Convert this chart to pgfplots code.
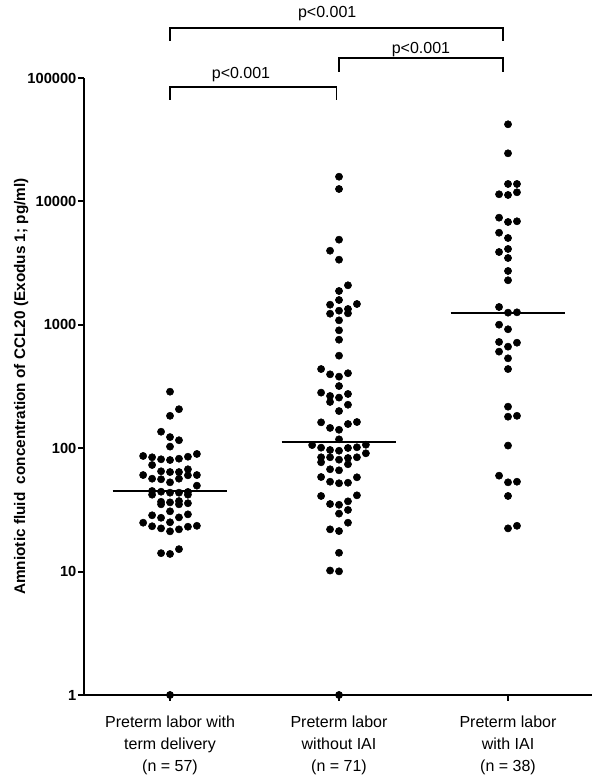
\documentclass[border=0pt]{standalone}
\usepackage{pgfplots}
\usepackage{pgfplotstable}
\pgfplotsset{compat=1.18}
\usepackage{fontspec}
\setmainfont{Liberation Sans}

\pgfplotstableread{
x y
1.000 287
1.053 207
1.000 183
0.947 136
1.000 123
1.053 116
1.000 103
0.841 86.5
0.894 84.4
0.947 81.3
1.000 80.2
1.053 82.2
1.106 85.3
1.159 89.8
0.894 73.1
0.947 65.0
1.000 64.1
1.053 64.1
1.106 67.5
0.841 60.6
0.894 56.6
0.947 56.0
1.000 52.9
1.053 56.6
1.106 60.3
1.159 60.6
1.159 49.7
0.894 45.0
0.894 42.0
0.947 44.4
1.000 43.6
1.053 43.6
1.106 44.2
1.106 42.0
0.947 36.8
0.947 35.1
1.000 36.4
1.053 37.3
1.053 35.1
1.106 35.8
1.000 30.8
0.841 24.9
0.894 28.6
0.947 27.3
1.000 25.1
1.053 27.5
1.106 29.1
0.894 23.3
0.947 22.4
1.000 21.2
1.053 22.0
1.106 23.1
1.159 23.5
0.947 14.1
1.000 13.9
1.053 15.2
1.000 1
}\groupA

\pgfplotstableread{
x y
2.000 15850
2.000 12600
2.000 4895
1.947 3984
2.000 3370
2.053 2090
2.000 1879
2.000 1588
1.947 1455
2.106 1474
2.000 1301
2.053 1343
2.053 1239
1.947 1230
2.000 1087
2.000 902
2.000 757
2.000 562
1.894 438
1.947 397
2.000 380
2.053 405
2.000 319
1.894 282
1.947 265
2.000 257
2.053 275
1.947 237
2.053 225
2.000 200
1.894 162
1.947 146
2.000 141
2.053 157
2.106 163
2.000 118
1.841 106
1.894 101
1.947 96.7
2.000 95.4
2.053 100.4
2.106 101.7
2.159 106.7
2.159 90.9
1.894 84.4
1.947 84.4
1.894 76.9
2.000 80.7
2.053 83.3
2.106 84.4
2.053 74.1
1.947 67.5
2.000 66.2
1.894 58.4
1.947 53.5
2.000 52.0
2.053 52.5
2.106 58.1
1.894 41.0
1.947 35.3
2.000 34.8
2.053 37.1
2.106 41.5
2.000 29.5
2.053 31.6
2.053 24.9
1.947 22.0
2.000 21.3
2.000 14.2
1.947 10.2
2.000 10.05
2.000 1
}\groupB

\pgfplotstableread{
x y
3.000 42150
3.000 24530
3.000 13840
3.053 13840
2.947 11420
3.000 11270
3.053 11850
2.947 7380
3.000 6810
3.053 6900
2.947 5575
3.000 5050
3.000 4115
2.947 3890
3.000 3477
3.000 2730
3.000 2295
2.947 1394
3.000 1254
3.053 1262
2.947 1002
3.000 920
2.947 726
3.000 665
3.053 716
2.947 606
3.000 535
3.000 438
3.000 217
3.000 180
3.053 183
3.000 105
2.947 59.9
3.000 52.9
3.053 53.5
3.000 41.0
3.000 22.4
3.053 23.5
}\groupC

\begin{document}
\begin{tikzpicture}
\begin{axis}[
  scale only axis,
  width=381pt, height=462.75pt,
  xmin=0.491, xmax=3.497,
  ymode=log, ymin=1, ymax=100000,
  axis x line*=bottom, axis y line*=left,
  axis line style={line width=1.7pt, -},
  ytick={1,10,100,1000,10000,100000},
  yticklabels={1,10,100,1000,10000,100000},
  yminorticks=false,
  xtick={1,2,3},
  xticklabels={{Preterm labor with\\term delivery\\(n = 57)},{Preterm labor\\without IAI\\(n = 71)},{Preterm labor\\with IAI\\(n = 38)}},
  tick align=outside,
  major tick length=4.5pt,
  tick style={line width=1.4pt, black},
  yticklabel style={font=\bfseries\fontsize{11}{12}\selectfont, inner sep=1pt},
  xticklabel style={font=\fontsize{12}{16.5}\selectfont, align=center, yshift=-8pt},
  ylabel={Amniotic fluid\ \ concentration of CCL20 (Exodus 1; pg/ml)},
  ylabel style={font=\bfseries\fontsize{11.5}{13}\selectfont, at={(axis description cs:-0.1234,0.5)}, anchor=center},
  clip=false,
]
\addplot[only marks, mark=*, mark size=2.7pt, black] table {\groupA};
\addplot[only marks, mark=*, mark size=2.7pt, black] table {\groupB};
\addplot[only marks, mark=*, mark size=2.7pt, black] table {\groupC};
\addplot[black, line width=1.3pt, no marks] coordinates {(0.66,45) (1.34,45)};
\addplot[black, line width=1.3pt, no marks] coordinates {(1.66,113) (2.34,113)};
\addplot[black, line width=1.3pt, no marks] coordinates {(2.66,1254) (3.34,1254)};
\draw[line width=1.2pt] (axis cs:1,199500) -- (axis cs:1,254000) -- (axis cs:2.97,254000) -- (axis cs:2.97,199500);
\node[font=\fontsize{12}{14}\selectfont] at (axis cs:1.93,330000) {p<0.001};
\draw[line width=1.2pt] (axis cs:2,111900) -- (axis cs:2,145200) -- (axis cs:2.97,145200) -- (axis cs:2.97,111900);
\node[font=\fontsize{12}{14}\selectfont] at (axis cs:2.485,168700) {p<0.001};
\draw[line width=1.2pt] (axis cs:1,66400) -- (axis cs:1,84500) -- (axis cs:1.985,84500) -- (axis cs:1.985,66400);
\node[font=\fontsize{12}{14}\selectfont] at (axis cs:1.42,105700) {p<0.001};
\coordinate (SW) at (rel axis cs:0,0);
\coordinate (NE) at (rel axis cs:1,1);
\end{axis}
\pgfresetboundingbox
\path ([xshift=-63pt,yshift=-66.75pt]SW) rectangle ([xshift=6pt,yshift=58.5pt]NE);
\end{tikzpicture}
\end{document}
